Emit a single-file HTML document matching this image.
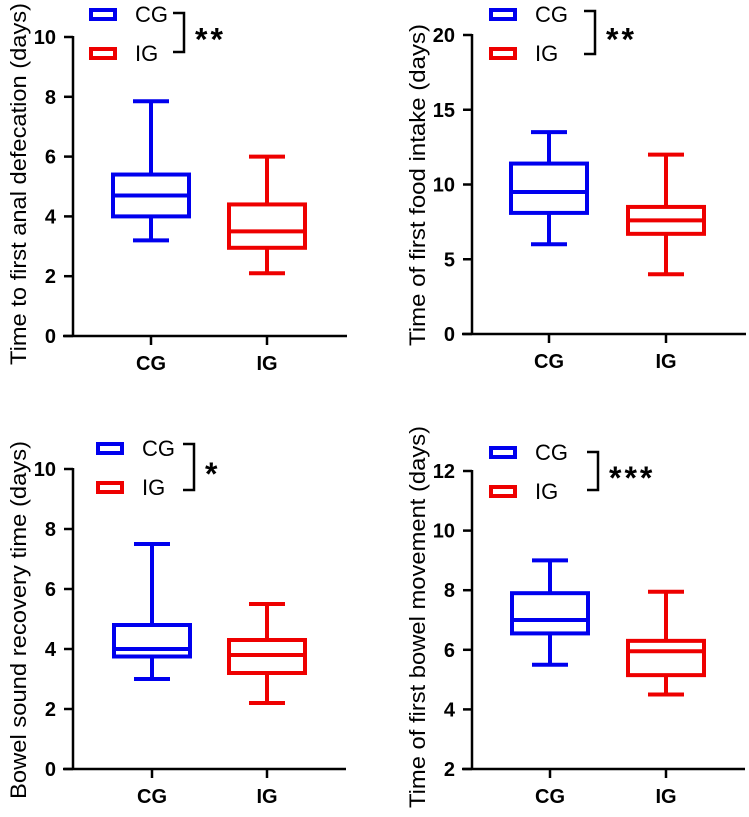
<!DOCTYPE html>
<html><head><meta charset="utf-8"><style>
html,body{margin:0;padding:0;background:#fff;}
svg{display:block;font-family:"Liberation Sans",Arial,sans-serif;}
</style></head><body>
<svg id="fig" width="749" height="817" viewBox="0 0 749 817" xmlns="http://www.w3.org/2000/svg"></svg>
<script>
const categories = ["CG", "IG"];
const titles = ["Time to first anal defecation (days)", "Time of first food intake (days)", "Bowel sound recovery time (days)", "Time of first bowel movement (days)"];
const sigLabels = ["**", "**", "*", "***"];
// [min, q1, median, q3, max] per group
const p1CG = [3.2, 4.0, 4.7, 5.4, 7.85];
const p1IG = [2.1, 2.95, 3.5, 4.4, 6.0];
const p2CG = [6.0, 8.1, 9.5, 11.4, 13.5];
const p2IG = [4.0, 6.7, 7.6, 8.5, 12.0];
const p3CG = [3.0, 3.75, 4.0, 4.8, 7.5];
const p3IG = [2.2, 3.2, 3.8, 4.3, 5.5];
const p4CG = [5.5, 6.55, 7.0, 7.9, 9.0];
const p4IG = [4.5, 5.15, 5.95, 6.3, 7.95];
const ticks1 = [0, 2, 4, 6, 8, 10];
const ticks2 = [0, 5, 10, 15, 20];
const ticks3 = [0, 2, 4, 6, 8, 10];
const ticks4 = [2, 4, 6, 8, 10, 12];

const NS = "http://www.w3.org/2000/svg";
const svg = document.getElementById("fig");
function mk(tag, attrs, parent, text) {
  const e = document.createElementNS(NS, tag);
  for (const k in attrs) e.setAttribute(k, attrs[k]);
  if (text !== undefined) e.textContent = text;
  parent.appendChild(e);
  return e;
}
const colors = ["#0000ee", "#ee0000"];
const panels = [
  {ax: 73, top: 37, bot: 336, xend: 347, cx: [151, 267], data: [p1CG, p1IG], ticks: ticks1, lx: 18, ly: 184, tl: 362, leg: {x: 89, y: 8, br: 173, bt: 13, bb: 52}},
  {ax: 472, top: 35, bot: 334, xend: 746, cx: [549, 666], data: [p2CG, p2IG], ticks: ticks2, lx: 417, ly: 185, tl: 322, leg: {x: 489, y: 8, br: 584, bt: 11, bb: 54}},
  {ax: 73, top: 469, bot: 769, xend: 346, cx: [152, 267], data: [p3CG, p3IG], ticks: ticks3, lx: 18, ly: 620, tl: 358, leg: {x: 96, y: 442, br: 183, bt: 444, bb: 490}},
  {ax: 472, top: 471, bot: 769, xend: 745, cx: [550, 666], data: [p4CG, p4IG], ticks: ticks4, lx: 417, ly: 617, tl: 382, leg: {x: 489, y: 446, br: 587, bt: 452, bb: 490}}
];
panels.forEach((p, i) => {
  const g = mk("g", {}, svg);
  
  
  const t0 = p.ticks[0], t1 = p.ticks[p.ticks.length - 1];
  const y = v => p.bot - (v - t0) / (t1 - t0) * (p.bot - p.top);
  const ya = mk("line", {x1: p.ax, y1: p.top - 1, x2: p.ax, y2: p.bot, stroke: "#000", "stroke-width": 2.5}, g);
  
  
  const xa = mk("line", {x1: p.ax - 10, y1: p.bot, x2: p.xend, y2: p.bot, stroke: "#000", "stroke-width": 2.5}, g);
  
  
  p.ticks.forEach(t => {
    mk("line", {x1: p.ax - 9, y1: y(t), x2: p.ax, y2: y(t), stroke: "#000", "stroke-width": 2.5}, g);
    const tl = mk("text", {x: p.ax - 17, y: y(t) + 7, "text-anchor": "end", "font-size": 20, "font-weight": "bold"}, g, t);
    
    
  });
  const title = mk("text", {x: 0, y: 0, "text-anchor": "middle", "font-size": 22.5, textLength: p.tl, lengthAdjust: "spacingAndGlyphs", transform: `translate(${p.lx + 8},${p.ly}) rotate(-90)`}, g, titles[i]);
  
  
  p.data.forEach((d, j) => {
    const cx = p.cx[j], c = colors[j];
    mk("line", {x1: cx, y1: p.bot, x2: cx, y2: p.bot + 9, stroke: "#000", "stroke-width": 2.5}, g);
    const cl = mk("text", {x: cx, y: p.bot + 34, "text-anchor": "middle", "font-size": 20, "font-weight": "bold"}, g, categories[j]);
    
    
    const bg = mk("g", {stroke: c, "stroke-width": 4, fill: "none"}, g);
    
    
    mk("line", {x1: cx, y1: y(d[0]), x2: cx, y2: y(d[1])}, bg);
    mk("line", {x1: cx, y1: y(d[3]), x2: cx, y2: y(d[4])}, bg);
    mk("line", {x1: cx - 18, y1: y(d[0]), x2: cx + 18, y2: y(d[0])}, bg);
    mk("line", {x1: cx - 18, y1: y(d[4]), x2: cx + 18, y2: y(d[4])}, bg);
    mk("rect", {x: cx - 38, y: y(d[3]), width: 76, height: y(d[1]) - y(d[3])}, bg);
    mk("line", {x1: cx - 38, y1: y(d[2]), x2: cx + 38, y2: y(d[2])}, bg);
  });
  const L = p.leg;
  categories.forEach((c, j) => {
    const ly = L.y + j * 39;
    const lg = mk("g", {}, g);
    
    
    mk("rect", {x: L.x + 2, y: ly + 2, width: 24, height: 9, fill: "none", stroke: colors[j], "stroke-width": 4}, lg);
    mk("text", {x: L.x + 46, y: ly + 14, "font-size": 22}, lg, c);
  });
  const br = mk("path", {d: `M${L.br},${L.bt} H${L.br + 11} V${L.bb} H${L.br}`, fill: "none", stroke: "#000", "stroke-width": 2.5}, g);
  
  
  const st = mk("text", {x: L.br + 22, y: (L.bt + L.bb) / 2 + 18, "font-size": 32, "font-weight": "bold", "letter-spacing": 3}, g, sigLabels[i]);
  
  
});
</script>
</body></html>
